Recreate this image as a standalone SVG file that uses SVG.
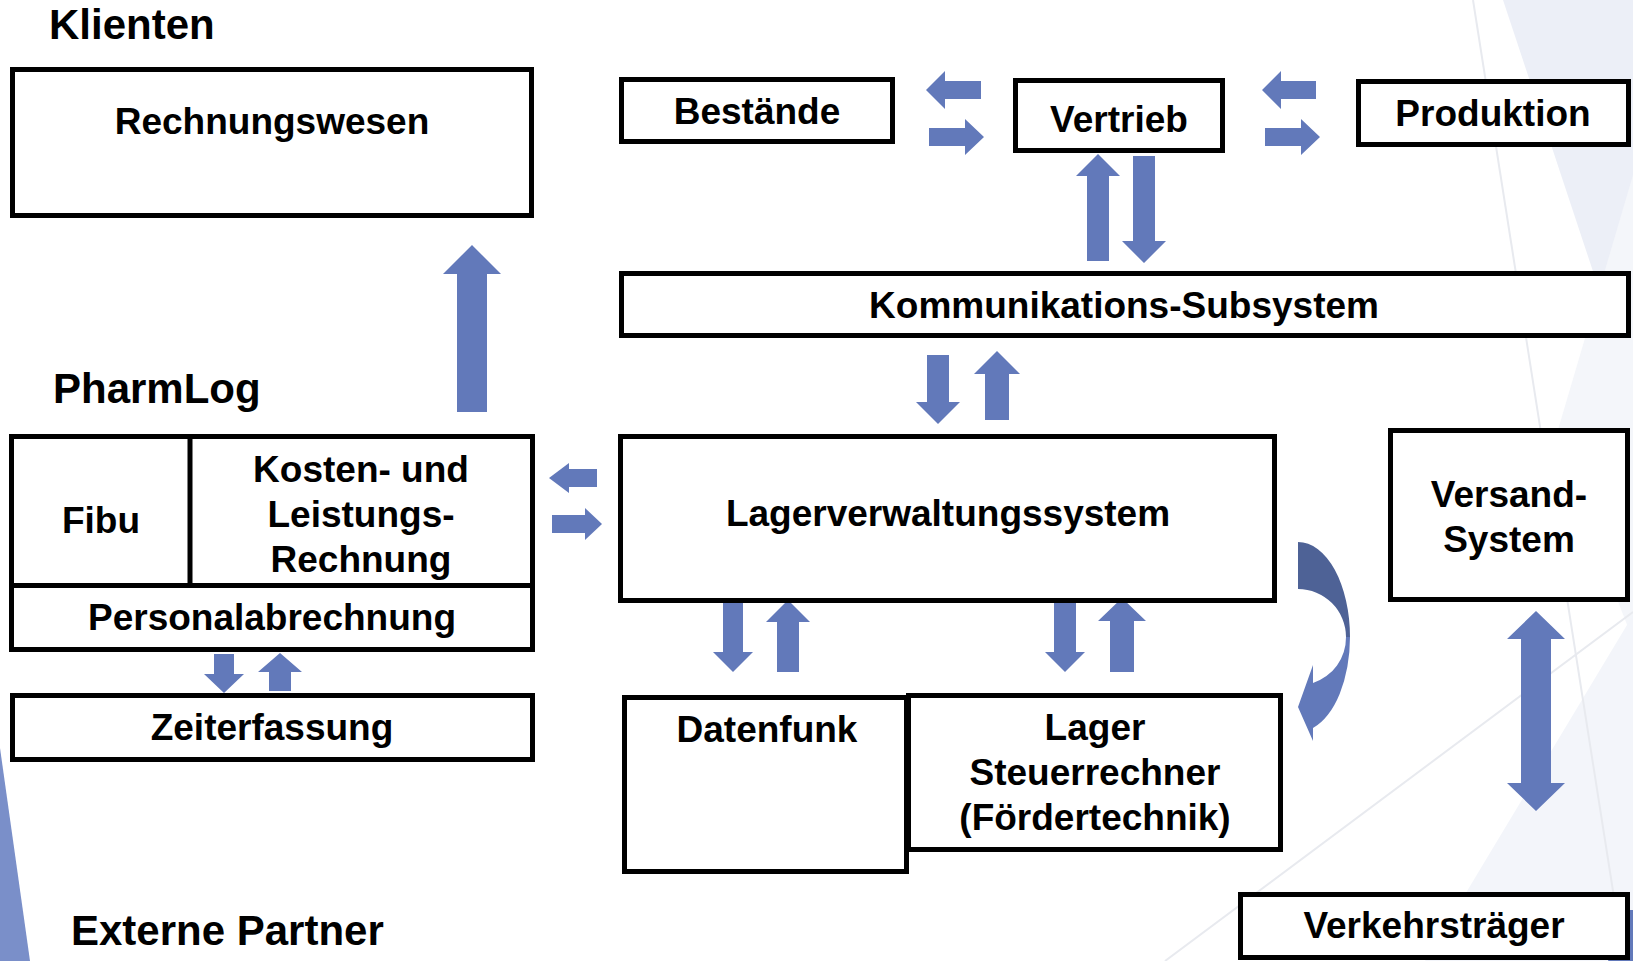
<svg xmlns="http://www.w3.org/2000/svg" width="1633" height="961" viewBox="0 0 1633 961">
<defs>
<style>
.box{fill:#fff;stroke:#000;stroke-width:5}
.ln{fill:none;stroke:#000;stroke-width:5}
.t{font-family:"Liberation Sans",Arial,sans-serif;font-weight:bold;font-size:37px;fill:#000;text-anchor:middle}
.h{font-family:"Liberation Sans",Arial,sans-serif;font-weight:bold;font-size:42px;fill:#000}
.ar{fill:#6279BA}
.ard{fill:#4E6296}
</style>
</defs>
<rect width="1633" height="961" fill="#fff"/>
<g id="background">
<polygon points="1503,0 1633,0 1633,392" fill="#ECEFF7"/>
<polygon points="1555,440 1633,175 1633,640" fill="#F4F6FA"/>
<polygon points="1425,961 1633,615 1633,961" fill="#F3F5FA"/>
<line x1="1473" y1="0" x2="1624" y2="961" stroke="#E8EAEF" stroke-width="2"/>
<line x1="1165" y1="961" x2="1633" y2="612" stroke="#E8EAEF" stroke-width="2"/>
<polygon points="0,748 30,961 0,961" fill="#7A8FC9"/>
<polygon points="1608,961 1629,910 1633,910 1633,961" fill="#6279BA"/>
</g>
<g id="titles">
<text class="h" x="49" y="39">Klienten</text>
<text class="h" x="53" y="403">PharmLog</text>
<text class="h" x="71" y="945">Externe Partner</text>
</g>
<g id="connectors">
<polygon class="ar" points="472,245 501,274 487,274 487,412 457,412 457,274 443,274"/>
<polygon class="ar" points="926,90 945,71 945,81 981,81 981,99 945,99 945,109"/>
<polygon class="ar" points="984,137 965,119 965,128 929,128 929,146 965,146 965,155"/>
<polygon class="ar" points="1262,90 1281,71 1281,81 1316,81 1316,99 1281,99 1281,109"/>
<polygon class="ar" points="1320,137 1301,119 1301,128 1265,128 1265,146 1301,146 1301,155"/>
<polygon class="ar" points="1098,154 1120,176 1109,176 1109,261 1087,261 1087,176 1076,176"/>
<polygon class="ar" points="1144,263 1166,241 1155,241 1155,156 1133,156 1133,241 1122,241"/>
<polygon class="ar" points="938,424 960,402 949,402 949,355 927,355 927,402 916,402"/>
<polygon class="ar" points="997,351 1020,374 1009,374 1009,420 985,420 985,374 974,374"/>
<polygon class="ar" points="549,478 569,463 569,469 597,469 597,487 569,487 569,493"/>
<polygon class="ar" points="602,524 585,508 585,515 552,515 552,533 585,533 585,540"/>
<polygon class="ar" points="224,693 244,674 234,674 234,654 214,654 214,674 204,674"/>
<polygon class="ar" points="280,653 302,672 291,672 291,691 269,691 269,672 258,672"/>
<polygon class="ar" points="733,672 753,652 743,652 743,602 723,602 723,652 713,652"/>
<polygon class="ar" points="788,600 810,622 799,622 799,672 777,672 777,622 766,622"/>
<polygon class="ar" points="1065,672 1085,652 1076,652 1076,600 1054,600 1054,652 1045,652"/>
<polygon class="ar" points="1122,598 1146,621 1134,621 1134,672 1110,672 1110,621 1098,621"/>
<polygon class="ar" points="1536,611 1565,639 1551,639 1551,783 1565,783 1536,811 1507,783 1521,783 1521,639 1507,639"/>
<path class="ard" d="M1298,542 A52,95 0 0 1 1350,637 L1346,637 A48,48 0 0 0 1298,589 Z"/>
<path class="ar" d="M1350,637 A52,95 0 0 1 1313,728 L1313,741 L1298,707 L1313,665 L1313,683 A48,48 0 0 0 1346,637 Z"/>
</g>
<g id="rechnungswesen">
<rect class="box" x="12.5" y="69.5" width="519" height="146"/>
<text class="t" x="272" y="134">Rechnungswesen</text>
</g>
<g id="bestaende">
<rect class="box" x="621.5" y="79.5" width="271" height="62"/>
<text class="t" x="757" y="124">Bestände</text>
</g>
<g id="vertrieb">
<rect class="box" x="1015.5" y="80.5" width="207" height="70"/>
<text class="t" x="1119" y="132">Vertrieb</text>
</g>
<g id="produktion">
<rect class="box" x="1358.5" y="81.5" width="270" height="63"/>
<text class="t" x="1493" y="126">Produktion</text>
</g>
<g id="kommunikation">
<rect class="box" x="621.5" y="273.5" width="1007" height="62"/>
<text class="t" x="1124" y="318">Kommunikations-Subsystem</text>
</g>
<g id="lagerverwaltung">
<rect class="box" x="620.5" y="436.5" width="654" height="164"/>
<text class="t" x="948" y="526">Lagerverwaltungssystem</text>
</g>
<g id="pharmlog">
<rect class="box" x="11.5" y="436.5" width="521" height="213"/>
<line class="ln" x1="11.5" y1="585.5" x2="532.5" y2="585.5"/>
<line class="ln" x1="190" y1="436.5" x2="190" y2="585.5"/>
<text class="t" x="101" y="533">Fibu</text>
<text class="t" x="361" y="482">Kosten- und</text>
<text class="t" x="361" y="527">Leistungs-</text>
<text class="t" x="361" y="572">Rechnung</text>
<text class="t" x="272" y="630">Personalabrechnung</text>
</g>
<g id="zeiterfassung">
<rect class="box" x="12.5" y="695.5" width="520" height="64"/>
<text class="t" x="272" y="740">Zeiterfassung</text>
</g>
<g id="datenfunk">
<rect class="box" x="624.5" y="697.5" width="282" height="174"/>
<text class="t" x="767" y="742">Datenfunk</text>
</g>
<g id="steuerrechner">
<rect class="box" x="908.5" y="695.5" width="372" height="154"/>
<text class="t" x="1095" y="740">Lager</text>
<text class="t" x="1095" y="785">Steuerrechner</text>
<text class="t" x="1095" y="830">(Fördertechnik)</text>
</g>
<g id="versand">
<rect class="box" x="1390.5" y="430.5" width="237" height="169"/>
<text class="t" x="1509" y="507">Versand-</text>
<text class="t" x="1509" y="552">System</text>
</g>
<g id="verkehrstraeger">
<rect class="box" x="1240.5" y="894.5" width="387" height="63"/>
<text class="t" x="1434" y="938">Verkehrsträger</text>
</g>
</svg>
